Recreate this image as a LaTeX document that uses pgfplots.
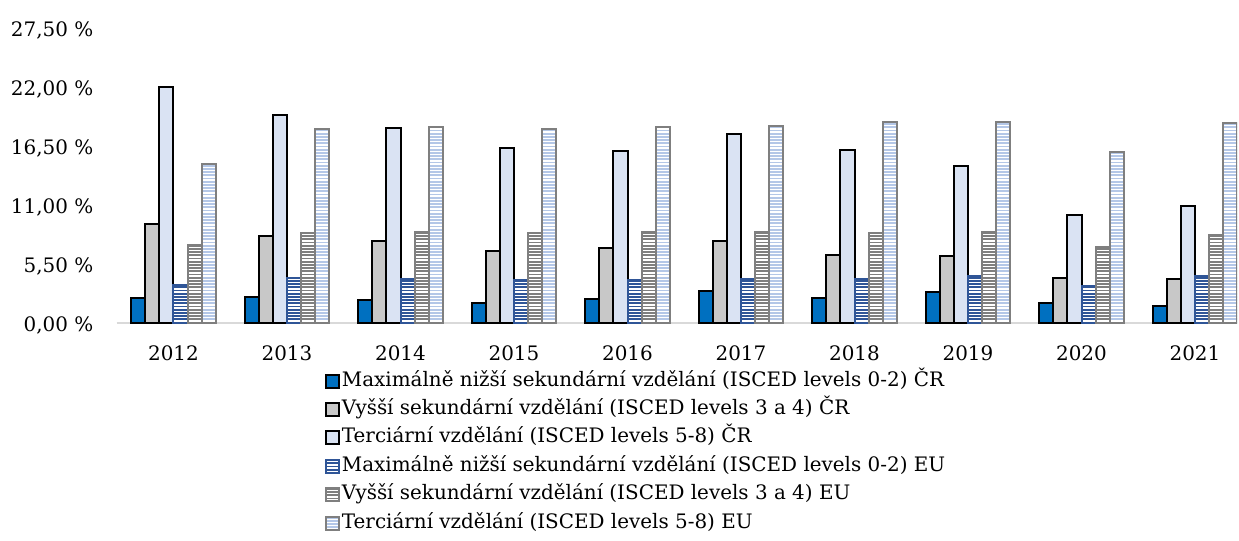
\documentclass[border=0pt]{standalone}
\usepackage{fontspec}
\setmainfont{DejaVu Serif}
\usepackage{pgfplots}
\pgfplotsset{compat=1.18}
\usetikzlibrary{patterns}
\pgfdeclarepatternformonly{hstripes}{\pgfqpoint{-1bp}{0bp}}{\pgfqpoint{101bp}{3.2bp}}{\pgfqpoint{100bp}{3.2bp}}{%
  \pgfpathrectangle{\pgfqpoint{-1bp}{0bp}}{\pgfqpoint{102bp}{1.7bp}}\pgfusepath{fill}}
\definecolor{cBlue}{HTML}{0070C0}
\definecolor{cGray}{HTML}{C8C8C8}
\definecolor{cLight}{HTML}{DAE3F3}
\definecolor{euBlue}{HTML}{2F5597}
\definecolor{euGray}{HTML}{7F7F7F}
\definecolor{euLight}{HTML}{B4C7E7}
\definecolor{axisGray}{HTML}{D9D9D9}
\newcommand\chartfont{\fontsize{20}{24}\selectfont}
\pgfplotstableread{
x crL crU crT euL euU euT
0 2.35 9.20 21.97 3.54 7.27 14.80
1 2.45 8.10 19.35 4.16 8.36 18.05
2 2.14 7.67 18.14 4.13 8.50 18.23
3 1.90 6.70 16.30 4.00 8.36 18.05
4 2.24 7.02 16.00 4.00 8.50 18.23
5 3.00 7.67 17.64 4.13 8.50 18.36
6 2.36 6.37 16.13 4.13 8.42 18.74
7 2.92 6.27 14.64 4.38 8.51 18.74
8 1.90 4.16 10.07 3.45 7.05 15.97
9 1.62 4.07 10.90 4.38 8.23 18.67
}\datatable
\pgfplotsset{sqleg/.style={legend image code/.code={\draw[##1,line width=2bp] (0bp,-6.5bp) rectangle (13bp,6.5bp);}}}
\begin{document}
\begin{tikzpicture}
\begin{axis}[
  x=113.5bp, y=10.727bp,
  xmin=-0.5, xmax=9.37, ymin=0, ymax=27.5,
  ybar=0pt, bar width=14.05bp,
  axis x line=bottom, axis y line=left,
  axis line style={-},
  x axis line style={draw=axisGray, line width=1.5bp},
  y axis line style={draw=none},
  major tick length=0pt,
  xtick={0,...,9},
  xticklabels={2012,2013,2014,2015,2016,2017,2018,2019,2020,2021},
  ytick={0,5.5,11,16.5,22,27.5},
  yticklabels={{0,00 \%},{5,50 \%},{11,00 \%},{16,50 \%},{22,00 \%},{27,50 \%}},
  tick label style={font=\chartfont, text=black},
  yticklabel style={xshift=-20bp, yshift=-2bp},
  xticklabel style={yshift=-19bp},
  legend style={at={(axis description cs:0.183,-0.149)}, anchor=north west,
    draw=none, fill=none, font=\chartfont, row sep=4.4bp,
    legend cell align=left,
    nodes={inner sep=2bp, text height=15bp, text depth=5bp}},
  legend cell align=left,
]
\addplot[sqleg, fill=cBlue, draw=black, line width=2bp] table[x=x,y=crL]{\datatable};
\addlegendentry{Maximálně nižší sekundární vzdělání (ISCED levels 0-2) ČR}
\addplot[sqleg, fill=cGray, draw=black, line width=2bp] table[x=x,y=crU]{\datatable};
\addlegendentry{Vyšší sekundární vzdělání (ISCED levels 3 a 4) ČR}
\addplot[sqleg, fill=cLight, draw=black, line width=2bp] table[x=x,y=crT]{\datatable};
\addlegendentry{Terciární vzdělání (ISCED levels 5-8) ČR}
\addplot[sqleg, draw=euBlue, line width=2bp, pattern=hstripes, pattern color=euBlue] table[x=x,y=euL]{\datatable};
\addlegendentry{Maximálně nižší sekundární vzdělání (ISCED levels 0-2) EU}
\addplot[sqleg, draw=euGray, line width=2bp, pattern=hstripes, pattern color=euGray] table[x=x,y=euU]{\datatable};
\addlegendentry{Vyšší sekundární vzdělání (ISCED levels 3 a 4) EU}
\addplot[sqleg, draw=euGray, line width=2bp, pattern=hstripes, pattern color=euLight] table[x=x,y=euT]{\datatable};
\addlegendentry{Terciární vzdělání (ISCED levels 5-8) EU}
\end{axis}
\pgfresetboundingbox
\path[use as bounding box] (-116.75bp,-218bp) rectangle (1122.25bp,323bp);
\end{tikzpicture}
\end{document}
